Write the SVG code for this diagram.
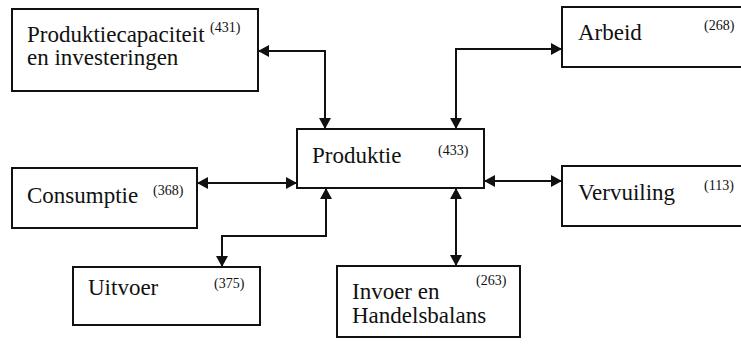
<svg xmlns="http://www.w3.org/2000/svg" width="741" height="348" viewBox="0 0 741 348">
<style>
.box{fill:#fff;stroke:#111;stroke-width:2}
.t{font-family:"Liberation Serif","Times New Roman",serif;font-size:23px;fill:#111}
.s{font-family:"Liberation Serif","Times New Roman",serif;font-size:14px;fill:#111}
.c{fill:none;stroke:#111;stroke-width:2;marker-start:url(#ah);marker-end:url(#ah)}
</style>
<defs>
<marker id="ah" markerUnits="userSpaceOnUse" markerWidth="12" markerHeight="12" refX="11" refY="6" orient="auto-start-reverse" viewBox="0 0 12 12">
<path d="M0,0 L11,6 L0,12 z" fill="#111"/>
</marker>
</defs>
<rect width="741" height="348" fill="#fff"/>
<g id="connectors">
<path class="c" d="M258,51 H325 V129"/>
<path class="c" d="M562,49 H456 V129"/>
<path class="c" d="M197,183 H297"/>
<path class="c" d="M484,181 H562"/>
<path class="c" d="M326,188 V236 H222 V267"/>
<path class="c" d="M456,188 V266"/>
</g>
<g id="produktiecapaciteit">
<rect class="box" x="12" y="9" width="246" height="82"/>
<text class="t" x="27" y="42">Produktiecapaciteit</text>
<text class="t" x="27" y="65">en investeringen</text>
<text class="s" x="210" y="32">(431)</text>
</g>
<g id="produktie">
<rect class="box" x="297" y="129" width="187" height="59"/>
<text class="t" x="312" y="163">Produktie</text>
<text class="s" x="438" y="155">(433)</text>
</g>
<g id="arbeid">
<rect class="box" x="562" y="7" width="190" height="60"/>
<text class="t" x="578" y="40">Arbeid</text>
<text class="s" x="704" y="30">(268)</text>
</g>
<g id="vervuiling">
<rect class="box" x="562" y="166" width="190" height="60"/>
<text class="t" x="578" y="200">Vervuiling</text>
<text class="s" x="704" y="190">(113)</text>
</g>
<g id="consumptie">
<rect class="box" x="12" y="168" width="185" height="60"/>
<text class="t" x="27" y="203">Consumptie</text>
<text class="s" x="153" y="195">(368)</text>
</g>
<g id="uitvoer">
<rect class="box" x="73" y="267" width="187" height="58"/>
<text class="t" x="88" y="295">Uitvoer</text>
<text class="s" x="214" y="288">(375)</text>
</g>
<g id="invoer">
<rect class="box" x="337" y="266" width="183" height="71"/>
<text class="t" x="352" y="299">Invoer en</text>
<text class="t" x="352" y="323">Handelsbalans</text>
<text class="s" x="476" y="285">(263)</text>
</g>
</svg>
